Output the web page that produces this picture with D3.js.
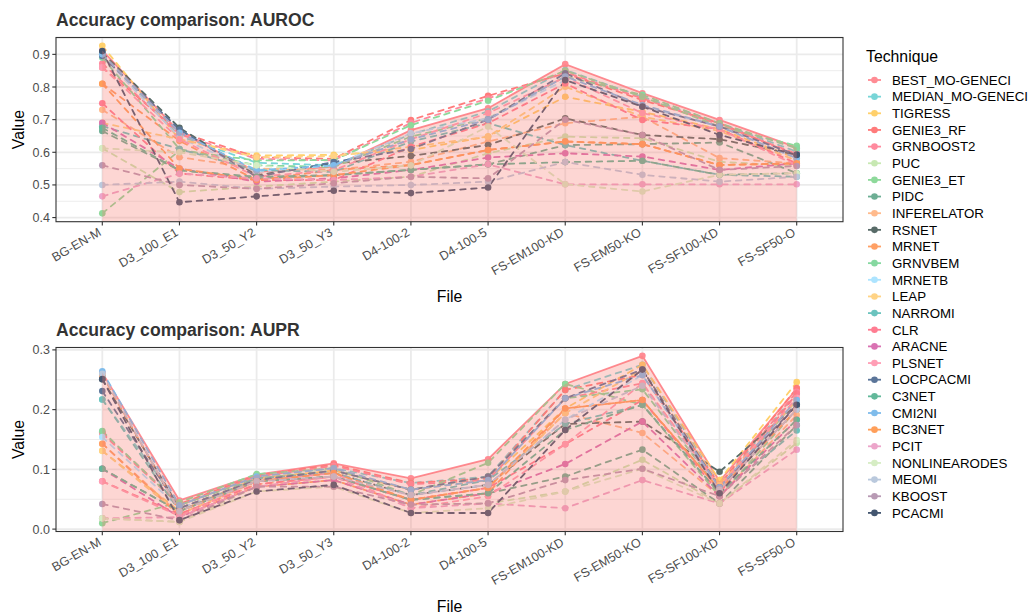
<!DOCTYPE html>
<html>
<head>
<meta charset="utf-8">
<script src="https://cdn.jsdelivr.net/npm/d3@7"></script>
<style>
  body { margin: 0; background: #fff; }
  text { font-family: "Liberation Sans", Arial, sans-serif; }
</style>
</head>
<body>
<svg id="chart" width="1028" height="613"></svg>
<script>
const files = ["BG-EN-M", "D3_100_E1", "D3_50_Y2", "D3_50_Y3", "D4-100-2", "D4-100-5",
  "FS-EM100-KD", "FS-EM50-KO", "FS-SF100-KD", "FS-SF50-O"];

const techniques = ["BEST_MO-GENECI", "MEDIAN_MO-GENECI", "TIGRESS", "GENIE3_RF", "GRNBOOST2",
  "PUC", "GENIE3_ET", "PIDC", "INFERELATOR", "RSNET", "MRNET", "GRNVBEM", "MRNETB", "LEAP",
  "NARROMI", "CLR", "ARACNE", "PLSNET", "LOCPCACMI", "C3NET", "CMI2NI", "BC3NET", "PCIT",
  "NONLINEARODES", "MEOMI", "KBOOST", "PCACMI"];

const colors = ["#FF8C94", "#78D5D7", "#FFD06B", "#FF7B7B", "#FF8A9E", "#C7E8B2", "#8ED99B",
  "#6DAE94", "#FFBA8C", "#586B68", "#FFA065", "#86D8A0", "#ADE4FF", "#FFD385", "#6BC3BE",
  "#FF7D92", "#D972B2", "#FF9EB5", "#5B7599", "#62B89A", "#7FBCEB", "#FF9F5A", "#ECA5CA",
  "#D6EDC4", "#BAC9DD", "#B89AB4", "#435670"];

// AUROC, one row per technique, one value per file
const auroc = [
  [0.912, 0.662, 0.540, 0.556, 0.668, 0.735, 0.870, 0.781, 0.699, 0.615],
  [0.900, 0.650, 0.568, 0.560, 0.655, 0.725, 0.852, 0.770, 0.689, 0.602],
  [0.926, 0.640, 0.590, 0.592, 0.607, 0.648, 0.770, 0.724, 0.671, 0.582],
  [0.860, 0.662, 0.585, 0.580, 0.699, 0.773, 0.842, 0.760, 0.689, 0.590],
  [0.872, 0.655, 0.580, 0.575, 0.690, 0.765, 0.845, 0.765, 0.685, 0.595],
  [0.612, 0.478, 0.495, 0.510, 0.525, 0.597, 0.648, 0.643, 0.571, 0.558],
  [0.413, 0.605, 0.575, 0.576, 0.683, 0.758, 0.850, 0.770, 0.679, 0.620],
  [0.665, 0.545, 0.520, 0.530, 0.546, 0.563, 0.622, 0.625, 0.630, 0.536],
  [0.730, 0.585, 0.550, 0.546, 0.571, 0.633, 0.689, 0.709, 0.582, 0.566],
  [0.905, 0.675, 0.530, 0.565, 0.589, 0.622, 0.704, 0.653, 0.640, 0.592],
  [0.810, 0.635, 0.515, 0.546, 0.561, 0.607, 0.633, 0.625, 0.561, 0.566],
  [0.890, 0.610, 0.560, 0.555, 0.648, 0.704, 0.832, 0.776, 0.689, 0.612],
  [0.895, 0.645, 0.540, 0.560, 0.658, 0.704, 0.821, 0.740, 0.679, 0.582],
  [0.690, 0.640, 0.585, 0.588, 0.617, 0.648, 0.801, 0.709, 0.665, 0.575],
  [0.680, 0.610, 0.545, 0.540, 0.633, 0.689, 0.622, 0.574, 0.531, 0.525],
  [0.750, 0.535, 0.515, 0.515, 0.617, 0.689, 0.811, 0.699, 0.671, 0.566],
  [0.690, 0.550, 0.510, 0.520, 0.546, 0.584, 0.597, 0.587, 0.546, 0.566],
  [0.860, 0.640, 0.525, 0.545, 0.640, 0.720, 0.830, 0.720, 0.670, 0.560],
  [0.895, 0.670, 0.525, 0.570, 0.610, 0.700, 0.842, 0.740, 0.679, 0.592],
  [0.675, 0.545, 0.525, 0.530, 0.546, 0.563, 0.570, 0.574, 0.531, 0.536],
  [0.900, 0.660, 0.545, 0.560, 0.640, 0.700, 0.832, 0.745, 0.679, 0.582],
  [0.810, 0.550, 0.515, 0.530, 0.561, 0.607, 0.633, 0.625, 0.561, 0.566],
  [0.465, 0.535, 0.520, 0.515, 0.525, 0.563, 0.502, 0.502, 0.502, 0.502],
  [0.612, 0.600, 0.560, 0.540, 0.560, 0.679, 0.502, 0.480, 0.531, 0.536],
  [0.500, 0.510, 0.488, 0.495, 0.500, 0.510, 0.570, 0.531, 0.510, 0.525],
  [0.560, 0.500, 0.488, 0.505, 0.525, 0.520, 0.700, 0.653, 0.546, 0.558],
  [0.910, 0.447, 0.465, 0.482, 0.475, 0.492, 0.821, 0.740, 0.653, 0.592]
];

// AUPR, same layout
const aupr = [
  [0.262, 0.048, 0.091, 0.110, 0.085, 0.117, 0.243, 0.290, 0.080, 0.235],
  [0.217, 0.040, 0.088, 0.102, 0.077, 0.088, 0.233, 0.275, 0.074, 0.227],
  [0.131, 0.030, 0.085, 0.098, 0.066, 0.082, 0.202, 0.275, 0.082, 0.246],
  [0.162, 0.042, 0.090, 0.108, 0.077, 0.085, 0.233, 0.258, 0.074, 0.236],
  [0.160, 0.040, 0.088, 0.106, 0.075, 0.082, 0.219, 0.244, 0.070, 0.230],
  [0.018, 0.012, 0.071, 0.082, 0.041, 0.043, 0.063, 0.116, 0.043, 0.144],
  [0.010, 0.045, 0.092, 0.102, 0.057, 0.111, 0.243, 0.208, 0.055, 0.200],
  [0.101, 0.030, 0.080, 0.088, 0.049, 0.060, 0.088, 0.133, 0.043, 0.174],
  [0.143, 0.025, 0.075, 0.088, 0.049, 0.069, 0.194, 0.161, 0.055, 0.191],
  [0.251, 0.035, 0.082, 0.094, 0.057, 0.074, 0.176, 0.180, 0.096, 0.208],
  [0.143, 0.022, 0.071, 0.082, 0.041, 0.060, 0.202, 0.216, 0.066, 0.200],
  [0.164, 0.040, 0.085, 0.098, 0.066, 0.088, 0.219, 0.234, 0.066, 0.216],
  [0.154, 0.035, 0.080, 0.094, 0.057, 0.074, 0.183, 0.258, 0.066, 0.208],
  [0.131, 0.025, 0.080, 0.094, 0.049, 0.069, 0.194, 0.267, 0.074, 0.216],
  [0.217, 0.030, 0.085, 0.094, 0.057, 0.082, 0.176, 0.208, 0.060, 0.165],
  [0.080, 0.025, 0.075, 0.088, 0.049, 0.069, 0.142, 0.216, 0.060, 0.227],
  [0.101, 0.020, 0.071, 0.082, 0.041, 0.060, 0.109, 0.180, 0.055, 0.183],
  [0.080, 0.022, 0.080, 0.094, 0.035, 0.055, 0.142, 0.244, 0.070, 0.220],
  [0.231, 0.035, 0.082, 0.098, 0.066, 0.088, 0.219, 0.267, 0.070, 0.208],
  [0.101, 0.030, 0.080, 0.088, 0.049, 0.060, 0.166, 0.208, 0.060, 0.183],
  [0.264, 0.040, 0.088, 0.102, 0.066, 0.082, 0.219, 0.258, 0.070, 0.216],
  [0.258, 0.030, 0.080, 0.094, 0.049, 0.069, 0.202, 0.216, 0.066, 0.200],
  [0.018, 0.020, 0.071, 0.088, 0.035, 0.043, 0.035, 0.082, 0.043, 0.133],
  [0.018, 0.012, 0.063, 0.071, 0.027, 0.035, 0.063, 0.101, 0.043, 0.149],
  [0.260, 0.030, 0.080, 0.088, 0.057, 0.074, 0.183, 0.240, 0.066, 0.200],
  [0.042, 0.015, 0.071, 0.071, 0.041, 0.043, 0.082, 0.101, 0.055, 0.174],
  [0.251, 0.015, 0.063, 0.074, 0.027, 0.027, 0.166, 0.267, 0.060, 0.208]
];

const aurocTicks = [0.4, 0.5, 0.6, 0.7, 0.8, 0.9];
const auprTicks = [0.0, 0.1, 0.2, 0.3];

const svg = d3.select("#chart");
const plotLeft = 56, plotRight = 843;

const x = d3.scalePoint().domain(files).range([plotLeft, plotRight]).padding(0.6);

function drawPanel({ top, bottom, values, ticks, title }) {
  const g = svg.append("g");

  // ggplot-style 5% expansion of the data range
  const [lo, hi] = d3.extent(values.flat());
  const pad = (hi - lo) * 0.05;
  const y = d3.scaleLinear().domain([lo - pad, hi + pad]).range([bottom, top]);

  // minor grid between the major ticks
  const step = ticks[1] - ticks[0];
  const minor = d3.range(ticks[0] - step / 2, ticks[ticks.length - 1] + step, step)
    .filter((v) => v > y.domain()[0] && v < y.domain()[1]);

  g.selectAll(".minor").data(minor).join("line")
    .attr("x1", plotLeft).attr("x2", plotRight)
    .attr("y1", (d) => y(d)).attr("y2", (d) => y(d))
    .attr("stroke", "#EBEBEB").attr("stroke-width", 0.9);

  g.selectAll(".major-h").data(ticks).join("line")
    .attr("x1", plotLeft).attr("x2", plotRight)
    .attr("y1", (d) => y(d)).attr("y2", (d) => y(d))
    .attr("stroke", "#EBEBEB").attr("stroke-width", 1.8);

  g.selectAll(".major-v").data(files).join("line")
    .attr("x1", (d) => x(d)).attr("x2", (d) => x(d))
    .attr("y1", top).attr("y2", bottom)
    .attr("stroke", "#EBEBEB").attr("stroke-width", 1.8);

  const line = d3.line().x((d, i) => x(files[i])).y((d) => y(d));

  // one line + points per technique
  const series = techniques.map((t, i) => ({ name: t, color: colors[i], vals: values[i], idx: i }));

  g.selectAll(".tech-line").data(series).join("path")
    .attr("d", (d) => line(d.vals))
    .attr("fill", "none")
    .attr("stroke", (d) => d.color)
    .attr("stroke-width", 1.8)
    .attr("stroke-linecap", "round")
    .attr("stroke-dasharray", (d) => (d.idx === 0 ? null : "5.5,5.5"));

  g.selectAll(".tech-dots").data(series).join("g")
    .attr("fill", (d) => d.color)
    .selectAll("circle")
    .data((d) => d.vals)
    .join("circle")
    .attr("cx", (d, i) => x(files[i]))
    .attr("cy", (d) => y(d))
    .attr("r", 3.3);

  // translucent area under the best technique, drawn over everything
  const area = d3.area()
    .x((d, i) => x(files[i]))
    .y0(bottom)
    .y1((d) => y(d));
  g.append("path")
    .attr("d", area(values[0]))
    .attr("fill", "#F8766D")
    .attr("fill-opacity", 0.3);

  // panel border
  g.append("rect")
    .attr("x", plotLeft).attr("y", top)
    .attr("width", plotRight - plotLeft).attr("height", bottom - top)
    .attr("fill", "none").attr("stroke", "#333333").attr("stroke-width", 1.1);

  // y axis
  const yAxis = g.append("g");
  yAxis.selectAll("line").data(ticks).join("line")
    .attr("x1", plotLeft - 3.7).attr("x2", plotLeft)
    .attr("y1", (d) => y(d)).attr("y2", (d) => y(d))
    .attr("stroke", "#333333").attr("stroke-width", 1.1);
  yAxis.selectAll("text").data(ticks).join("text")
    .attr("x", plotLeft - 6).attr("y", (d) => y(d))
    .attr("dy", "0.36em")
    .attr("text-anchor", "end")
    .attr("font-size", 12.5)
    .attr("fill", "#4D4D4D")
    .text((d) => d3.format(".1f")(d));

  // x axis
  const xAxis = g.append("g");
  xAxis.selectAll("line").data(files).join("line")
    .attr("x1", (d) => x(d)).attr("x2", (d) => x(d))
    .attr("y1", bottom).attr("y2", bottom + 3.7)
    .attr("stroke", "#333333").attr("stroke-width", 1.1);
  xAxis.selectAll("text").data(files).join("text")
    .attr("transform", (d) => `translate(${x(d) - 5},${bottom + 5}) rotate(-30)`)
    .attr("dy", "0.75em")
    .attr("text-anchor", "end")
    .attr("font-size", 12.5)
    .attr("fill", "#4D4D4D")
    .text((d) => d);

  // titles
  g.append("text")
    .attr("x", plotLeft).attr("y", top - 12)
    .attr("font-size", 17.6).attr("font-weight", "bold")
    .attr("fill", "#333333")
    .text(title);

  g.append("text")
    .attr("transform", `translate(24,${(top + bottom) / 2}) rotate(-90)`)
    .attr("text-anchor", "middle")
    .attr("font-size", 15.8)
    .text("Value");

  g.append("text")
    .attr("x", (plotLeft + plotRight) / 2).attr("y", bottom + 80)
    .attr("text-anchor", "middle")
    .attr("font-size", 15.8)
    .text("File");
}

drawPanel({ top: 37.5, bottom: 221.7, values: auroc, ticks: aurocTicks, title: "Accuracy comparison: AUROC" });
drawPanel({ top: 347.5, bottom: 531.5, values: aupr, ticks: auprTicks, title: "Accuracy comparison: AUPR" });

// legend
const legend = svg.append("g").attr("transform", "translate(866,0)");
legend.append("text")
  .attr("x", 0).attr("y", 62)
  .attr("font-size", 15.8)
  .text("Technique");

const item = legend.selectAll(".item").data(techniques).join("g")
  .attr("transform", (d, i) => `translate(0,${80 + i * 16.65})`);
item.append("line")
  .attr("x1", 2).attr("x2", 15)
  .attr("stroke", (d, i) => colors[i]).attr("stroke-width", 1.8);
item.append("circle")
  .attr("cx", 8.5).attr("r", 3.3)
  .attr("fill", (d, i) => colors[i]);
item.append("text")
  .attr("x", 26).attr("dy", "0.36em")
  .attr("font-size", 13.3)
  .text((d) => d);
</script>
</body>
</html>
